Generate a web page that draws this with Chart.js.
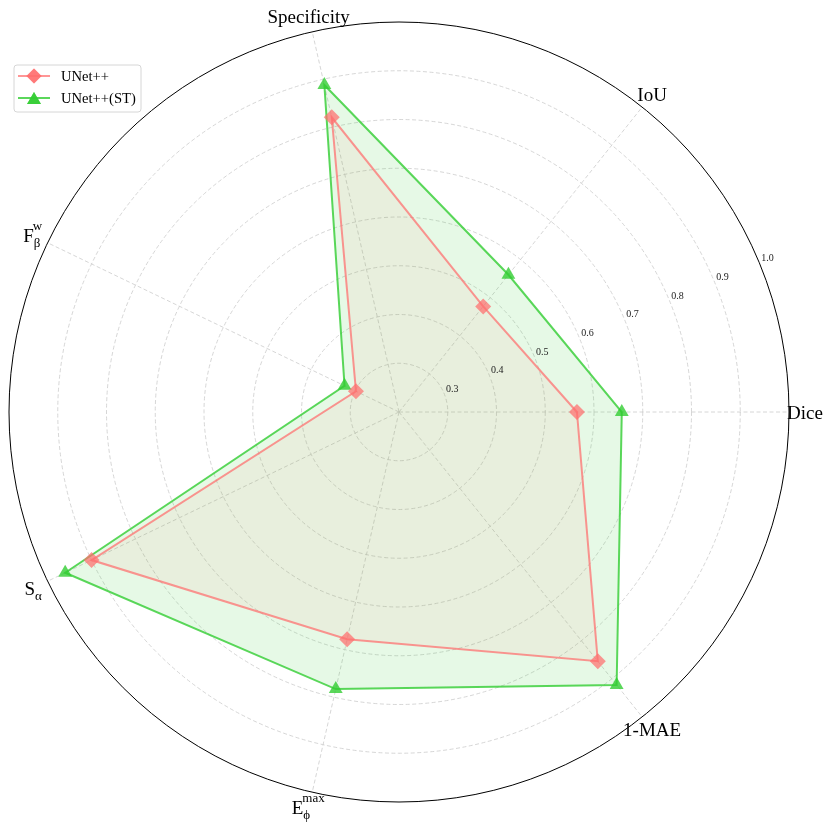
<!DOCTYPE html>
<html>
<head>
<meta charset="utf-8">
<script src="https://cdn.jsdelivr.net/npm/chart.js@4.4.1/dist/chart.umd.min.js"></script>
<style>
  html, body { margin: 0; padding: 0; background: #fff; }
</style>
</head>
<body>
<canvas id="radar" width="831" height="830"></canvas>
<script>
// Metrics, read counter-clockwise starting from the right (as in the figure)
const labelBase = ['Dice', 'IoU', 'Specificity', 'F', 'S', 'E', '1-MAE'];
const labelSub  = ['', '', '', 'β', 'α', 'ϕ', ''];
const labelSup  = ['', '', '', 'w', '', 'max', ''];

const unetpp   = [0.565, 0.477, 0.820, 0.298, 0.900, 0.678, 0.854];
const unetppST = [0.657, 0.560, 0.888, 0.324, 0.960, 0.783, 0.916];

const radialTicks = [0.3, 0.4, 0.5, 0.6, 0.7, 0.8, 0.9, 1.0];

const seriesNames = ['UNet++', 'UNet++(ST)'];

// Chart.js walks clockwise, so reorder: Dice, 1-MAE, E, S, F, Specificity, IoU
const order = [0, 6, 5, 4, 3, 2, 1];
const cw = arr => order.map(i => arr[i]);

const PINK = 'rgba(255,110,110,0.72)';
const PINK_FILL = 'rgba(255,110,110,0.08)';
const GREEN = 'rgba(50,205,50,0.8)';
const GREEN_FILL = 'rgba(50,205,50,0.12)';
const SERIF = '"Liberation Serif", "DejaVu Serif", serif';

const isOne = v => Math.abs(v - 1) < 1e-6;

function drawMathLabel(ctx, x, y, base, sub, sup) {
    const big = '19px ' + SERIF;
    const small = '13px ' + SERIF;
    ctx.font = big;
    const wb = ctx.measureText(base).width;
    ctx.font = small;
    const ws = sub ? ctx.measureText(sub).width : 0;
    const wp = sup ? ctx.measureText(sup).width : 0;
    const total = wb + Math.max(ws, wp);
    const x0 = x - total / 2;
    const baseY = y + 6.5;
    ctx.textAlign = 'left';
    ctx.textBaseline = 'alphabetic';
    ctx.font = big;
    ctx.fillText(base, x0, baseY);
    ctx.font = small;
    if (sub) ctx.fillText(sub, x0 + wb, baseY + 5);
    if (sup) ctx.fillText(sup, x0 + wb - 1, baseY - 12);
}

// Text layer: radial tick labels, category labels, legend
const textPlugin = {
    id: 'radarText',
    afterDraw(chart) {
        const ctx = chart.ctx;
        const r = chart.scales.r;
        ctx.save();

        // radial tick labels along 22.5 degrees
        ctx.fillStyle = '#222';
        ctx.font = '10px ' + SERIF;
        ctx.textAlign = 'left';
        ctx.textBaseline = 'bottom';
        const a = -22.5 * Math.PI / 180;
        radialTicks.forEach(v => {
            const d = r.getDistanceFromCenterForValue(v);
            const x = r.xCenter + d * Math.cos(a);
            const y = r.yCenter + d * Math.sin(a);
            ctx.fillText(v.toFixed(1), x + 2, y + 1);
        });

        // category labels
        ctx.fillStyle = '#000';
        labelBase.forEach((base, i) => {
            const li = order.indexOf(i);
            const p = r.getPointPosition(li, r.drawingArea + 16);
            drawMathLabel(ctx, p.x, p.y, base, labelSub[i], labelSup[i]);
        });

        // legend
        const bx = 14, by = 65, bw = 127, bh = 47;
        ctx.beginPath();
        ctx.roundRect(bx, by, bw, bh, 3);
        ctx.fillStyle = 'rgba(255,255,255,0.8)';
        ctx.fill();
        ctx.strokeStyle = '#d6d6d6';
        ctx.lineWidth = 1;
        ctx.stroke();

        const rows = [
            { y: 76, color: PINK, style: 'rectRot', radius: 7.5 },
            { y: 98, color: GREEN, style: 'triangle', radius: 8 }
        ];
        rows.forEach((row, k) => {
            ctx.strokeStyle = row.color;
            ctx.lineWidth = 2;
            ctx.beginPath();
            ctx.moveTo(18, row.y);
            ctx.lineTo(50, row.y);
            ctx.stroke();
            ctx.fillStyle = row.color;
            Chart.helpers.drawPoint(ctx, { pointStyle: row.style, radius: row.radius, borderWidth: 0, rotation: 0 }, 34, row.style === 'triangle' ? row.y + 2 : row.y);
            ctx.fill();
            ctx.fillStyle = '#000';
            ctx.font = '14.6px ' + SERIF;
            ctx.textAlign = 'left';
            ctx.textBaseline = 'middle';
            ctx.fillText(seriesNames[k], 61, row.y + 1);
        });

        ctx.restore();
    }
};

new Chart(document.getElementById('radar'), {
    type: 'radar',
    data: {
        labels: cw(labelBase),
        datasets: [
            {
                label: seriesNames[0],
                data: cw(unetpp),
                borderColor: PINK,
                backgroundColor: PINK_FILL,
                borderWidth: 2,
                fill: true,
                pointStyle: 'rectRot',
                pointRadius: 8,
                pointBorderWidth: 0,
                pointBackgroundColor: PINK,
                pointBorderColor: PINK,
                order: 1
            },
            {
                label: seriesNames[1],
                data: cw(unetppST),
                borderColor: GREEN,
                backgroundColor: GREEN_FILL,
                borderWidth: 2,
                fill: true,
                pointStyle: 'triangle',
                pointRadius: 8,
                pointBorderWidth: 0,
                pointBackgroundColor: GREEN,
                pointBorderColor: GREEN,
                order: 2
            }
        ]
    },
    options: {
        responsive: false,
        animation: false,
        layout: { padding: { left: 9, right: 42, top: 22, bottom: 28 } },
        plugins: {
            legend: { display: false },
            tooltip: { enabled: false }
        },
        elements: { line: { tension: 0 } },
        scales: {
            r: {
                min: 0.2,
                max: 1.0,
                startAngle: 90,
                ticks: { display: false, stepSize: 0.1 },
                pointLabels: { display: false },
                grid: {
                    circular: true,
                    color: c => isOne(c.tick.value) ? '#000' : '#cccccc',
                    lineWidth: c => isOne(c.tick.value) ? 1 : 0.8
                },
                border: {
                    dash: c => isOne(c.tick.value) ? [] : [4, 2.5]
                },
                angleLines: {
                    color: '#cccccc',
                    lineWidth: 0.8,
                    borderDash: [4, 2.5]
                }
            }
        }
    },
    plugins: [textPlugin]
});
</script>
</body>
</html>
